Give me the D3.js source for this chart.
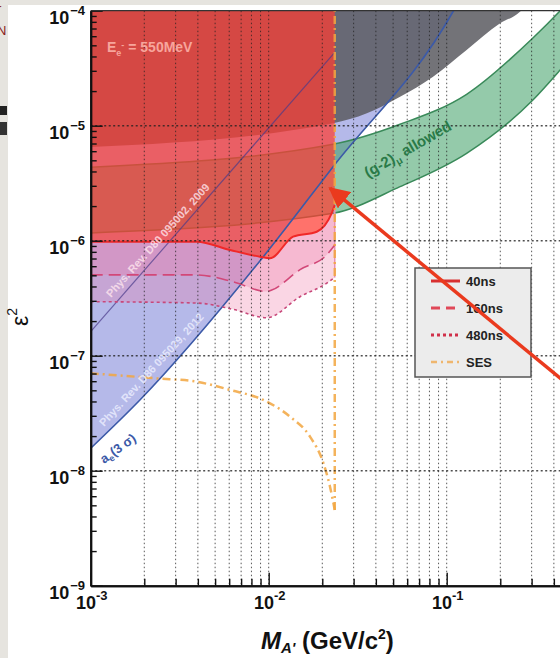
<!DOCTYPE html>
<html>
<head>
<meta charset="utf-8">
<script src="https://cdn.jsdelivr.net/npm/d3@7/dist/d3.min.js"></script>
<style>
    body { margin: 0; background: #fff; }
    svg { display: block; font-family: "Liberation Sans", Arial, sans-serif; }
</style>
</head>
<body>
<svg id="chart"></svg>
<script>
// ---- values (mass in GeV/c^2, epsilon^2) ----
const xTicks = [1e-3, 1e-2, 1e-1, 1];
const yTicks = [1e-9, 1e-8, 1e-7, 1e-6, 1e-5, 1e-4];
const xTickLabels = ["-3", "-2", "-1"];
const yTickLabels = ["\u22129", "\u22128", "\u22127", "\u22126", "\u22125", "\u22124"];

// exclusion curves of this proposal
const mass40 = [1.0e-3, 3.94e-3, 6.07e-3, 8.93e-3, 1.016e-2, 1.371e-2, 1.862e-2, 2.26e-2, 2.35e-2];
const eps40 = [9.8e-7, 9.8e-7, 8.3e-7, 7.26e-7, 7.03e-7, 1.084e-6, 1.197e-6, 1.74e-6, 2.04e-6];
const mass160 = [1.0e-3, 3.94e-3, 6.30e-3, 9.75e-3, 1.04e-2, 1.50e-2, 2.12e-2, 2.35e-2];
const eps160 = [5.04e-7, 5.04e-7, 4.40e-7, 3.61e-7, 3.72e-7, 5.60e-7, 7.53e-7, 9.18e-7];
const mass480 = [1.0e-3, 3.94e-3, 6.30e-3, 9.75e-3, 1.50e-2, 2.12e-2, 2.35e-2];
const eps480 = [2.95e-7, 2.87e-7, 2.53e-7, 2.14e-7, 3.26e-7, 4.27e-7, 4.79e-7];
const massSES = [1.0e-3, 2.35e-3, 3.94e-3, 6.07e-3, 9.33e-3, 1.318e-2, 1.706e-2, 2.03e-2, 2.21e-2, 2.35e-2];
const epsSES = [7.03e-8, 6.35e-8, 5.94e-8, 5.04e-8, 4.12e-8, 2.95e-8, 1.98e-8, 1.16e-8, 7.26e-9, 4.55e-9];
const massLimit = 2.35e-2;

// existing limits
const massD80 = [1.0e-3, 2.35e-2];
const epsD80 = [1.62e-7, 4.34e-5];
const massAe = [1.0e-3, 1.89e-3, 9.33e-3, 2.30e-2, 0.1084, 0.12];
const epsAe = [1.567e-8, 4.12e-8, 7.26e-7, 4.40e-6, 9.79e-5, 1.3e-4];
const massGray = [1.0e-3, 2.30e-2, 3.56e-2, 5.47e-2, 8.38e-2, 0.1294, 0.1995, 0.258, 0.30];
const epsGray = [6.52e-6, 1.05e-5, 1.282e-5, 1.786e-5, 2.67e-5, 4.55e-5, 7.76e-5, 9.79e-5, 1.3e-4];
const massG2 = [1.0e-3, 2.30e-2, 5.47e-2, 0.1294, 0.305, 0.434, 1.0];
const epsG2Low = [1.167e-6, 1.73e-6, 2.95e-6, 5.75e-6, 1.671e-5, 3.05e-5, 1.5e-4];
const epsG2High = [4.36e-6, 6.89e-6, 1.028e-5, 1.875e-5, 5.79e-5, 1.0e-4, 4.5e-4];

// annotation arrow (tip, tail)
const arrowMass = [2.21e-2, 0.726];
const arrowEps = [2.86e-6, 3.3e-8];

const legendLabels = ["40ns", "160ns", "480ns", "SES"];

// ---- layout ----
const width = 560, height = 658;
const margin = { top: 10.7, left: 90.7 };
const plotW = 534, plotH = 575;

const x = d3.scaleLog().domain([1e-3, 1]).range([margin.left, margin.left + plotW]);
const y = d3.scaleLog().domain([1e-9, 1e-4]).range([margin.top + plotH, margin.top]);

const svg = d3.select("#chart")
    .attr("width", width)
    .attr("height", height);

// slide background around the figure
svg.append("rect").attr("width", width).attr("height", height).attr("fill", "#e6e4df");
svg.append("rect").attr("x", 8).attr("y", 5).attr("width", width - 8).attr("height", height - 5).attr("fill", "#fff");
svg.append("text").attr("x", -3).attr("y", 13).attr("fill", "#8a2020").attr("font-size", 13).text("r");
svg.append("text").attr("x", -3).attr("y", 35).attr("fill", "#8a2020").attr("font-size", 13).text("N");
svg.append("rect").attr("x", 0).attr("y", 106).attr("width", 7).attr("height", 9).attr("fill", "#222");
svg.append("rect").attr("x", 0).attr("y", 122).attr("width", 7).attr("height", 13).attr("fill", "#333");

const defs = svg.append("defs");
defs.append("clipPath").attr("id", "plot-clip")
    .append("rect")
    .attr("x", margin.left).attr("y", margin.top)
    .attr("width", plotW).attr("height", plotH);

const plot = svg.append("g").attr("clip-path", "url(#plot-clip)");

const zip = (ms, es) => ms.map((m, i) => [m, es[i]]);
const line = d3.line().x(d => x(d[0])).y(d => y(d[1])).curve(d3.curveMonotoneX);
const areaTop = d3.area()
    .x(d => x(d[0]))
    .y0(y(1e-4) - 200)
    .y1(d => y(d[1]))
    .curve(d3.curveMonotoneX);
const areaBelow = d3.area()
    .x(d => x(d[0]))
    .y0(y(1e-9) + 50)
    .y1(d => y(d[1]))
    .curve(d3.curveMonotoneX);

// pink bands live only below the 40ns curve
defs.append("clipPath").attr("id", "below40")
    .append("path")
    .attr("d", areaBelow(zip(mass40, eps40)));

// a_e exclusion (blue)
plot.append("path")
    .attr("d", areaTop(zip(massAe, epsAe)))
    .attr("fill", "rgb(120,128,215)")
    .attr("fill-opacity", 0.55);

// existing dark gray exclusion
plot.append("path")
    .attr("d", areaTop(zip(massGray, epsGray)))
    .attr("fill", "rgb(90,90,96)")
    .attr("fill-opacity", 0.85);

// (g-2)_mu allowed band
const g2 = massG2.map((m, i) => [m, epsG2Low[i], epsG2High[i]]);
plot.append("path")
    .attr("d", d3.area()
        .x(d => x(d[0]))
        .y0(d => y(d[1]))
        .y1(d => y(d[2]))
        .curve(d3.curveMonotoneX)(g2))
    .attr("fill", "rgb(60,158,100)")
    .attr("fill-opacity", 0.55);
[epsG2Low, epsG2High].forEach(es => {
    plot.append("path")
        .attr("d", line(zip(massG2, es)))
        .attr("fill", "none")
        .attr("stroke", "#3a8a5a")
        .attr("stroke-width", 1.5);
});

// 480ns and 160ns reach (pink)
const pink = plot.append("g").attr("clip-path", "url(#below40)");
[[mass480, eps480], [mass160, eps160]].forEach(([ms, es]) => {
    pink.append("path")
        .attr("d", areaTop(zip(ms, es)))
        .attr("fill", "rgb(240,120,165)")
        .attr("fill-opacity", 0.3);
});
plot.append("line")
    .attr("x1", x(massLimit)).attr("x2", x(massLimit))
    .attr("y1", y(eps40[eps40.length - 1])).attr("y2", y(eps480[eps480.length - 1]))
    .attr("stroke", "#e890b0").attr("stroke-width", 1.5);

// 40ns reach (red)
plot.append("path")
    .attr("d", areaTop(zip(mass40, eps40)))
    .attr("fill", "rgb(255,60,50)")
    .attr("fill-opacity", 0.72);

// reference lines
plot.append("path")
    .attr("d", line(zip(massD80, epsD80)))
    .attr("fill", "none")
    .attr("stroke", "#4a3a8a")
    .attr("stroke-opacity", 0.7)
    .attr("stroke-width", 1.2);
plot.append("path")
    .attr("d", line(zip(massAe, epsAe)))
    .attr("fill", "none")
    .attr("stroke", "#3c5aa8")
    .attr("stroke-width", 1.6);

// curves
plot.append("path")
    .attr("d", line(zip(mass40, eps40)))
    .attr("fill", "none")
    .attr("stroke", "#f02828")
    .attr("stroke-width", 2);
plot.append("path")
    .attr("d", line(zip(mass160, eps160)))
    .attr("fill", "none")
    .attr("stroke", "#d24878")
    .attr("stroke-width", 1.6)
    .attr("stroke-dasharray", "12,6");
plot.append("path")
    .attr("d", line(zip(mass480, eps480)))
    .attr("fill", "none")
    .attr("stroke", "#c8487a")
    .attr("stroke-width", 1.6)
    .attr("stroke-dasharray", "3,3");
plot.append("path")
    .attr("d", line(zip(massSES, epsSES)))
    .attr("fill", "none")
    .attr("stroke", "#f2a640")
    .attr("stroke-opacity", 0.85)
    .attr("stroke-width", 2.5)
    .attr("stroke-dasharray", "8,4,2,4");
plot.append("line")
    .attr("x1", x(massLimit)).attr("x2", x(massLimit))
    .attr("y1", y(epsSES[epsSES.length - 1])).attr("y2", y(1e-4))
    .attr("stroke", "#f2a640")
    .attr("stroke-opacity", 0.85)
    .attr("stroke-width", 2.5)
    .attr("stroke-dasharray", "8,4,2,4");

// dotted grid
plot.selectAll(".vgrid")
    .data(x.ticks().filter(t => t > 1e-3 && t < 1))
    .join("line")
    .attr("class", "vgrid")
    .attr("x1", d => x(d)).attr("x2", d => x(d))
    .attr("y1", margin.top).attr("y2", margin.top + plotH)
    .attr("stroke", "#222")
    .attr("stroke-opacity", 0.75)
    .attr("stroke-width", 1)
    .attr("stroke-dasharray", "1.5,2.5");
plot.selectAll(".hgrid")
    .data(yTicks.slice(1, -1))
    .join("line")
    .attr("class", "hgrid")
    .attr("x1", margin.left).attr("x2", margin.left + plotW)
    .attr("y1", d => y(d)).attr("y2", d => y(d))
    .attr("stroke", "#222")
    .attr("stroke-opacity", 0.8)
    .attr("stroke-width", 1.4)
    .attr("stroke-dasharray", "2,2.5");

// ---- axes ----
const xMinor = x.ticks().filter(t => !xTicks.includes(t));
const yMinor = y.ticks().filter(t => !yTicks.some(v => Math.abs(v - t) / v < 1e-6));

const bottom = svg.append("g").attr("transform", `translate(0,${margin.top + plotH})`);
bottom.call(d3.axisBottom(x).tickValues(xMinor).tickSize(-7).tickSizeOuter(0).tickFormat(""));
bottom.call(g => g.append("g").call(d3.axisBottom(x).tickValues(xTicks).tickSize(-13).tickSizeOuter(0).tickFormat("")));
const left = svg.append("g").attr("transform", `translate(${margin.left},0)`);
left.call(d3.axisLeft(y).tickValues(yMinor).tickSize(-6).tickSizeOuter(0).tickFormat(""));
left.call(g => g.append("g").call(d3.axisLeft(y).tickValues(yTicks).tickSize(-12).tickSizeOuter(0).tickFormat("")));
svg.selectAll(".tick line").attr("stroke", "#111").attr("stroke-width", 1.4);
svg.selectAll(".domain").attr("stroke", "#111").attr("stroke-width", 2);

// top frame
svg.append("line")
    .attr("x1", margin.left).attr("x2", width)
    .attr("y1", margin.top).attr("y2", margin.top)
    .attr("stroke", "#333").attr("stroke-width", 1.2);

// tick labels 10^n
const yLab = svg.append("g").attr("font-weight", "bold").attr("fill", "#111");
yTicks.forEach((t, i) => {
    const txt = yLab.append("text")
        .attr("x", 85)
        .attr("y", y(t) + 13)
        .attr("text-anchor", "end");
    txt.append("tspan").attr("font-size", 18).text("10");
    txt.append("tspan").attr("font-size", 13).attr("dx", 1).attr("dy", -9).text(yTickLabels[i]);
});
const xLab = svg.append("g").attr("font-weight", "bold").attr("fill", "#111");
xTickLabels.forEach((lab, i) => {
    const txt = xLab.append("text")
        .attr("x", x(xTicks[i]) + 1)
        .attr("y", 609)
        .attr("text-anchor", "middle");
    txt.append("tspan").attr("font-size", 18).text("10");
    txt.append("tspan").attr("font-size", 13).attr("dy", -9).text(lab);
});

// axis titles
const yTitle = svg.append("text")
    .attr("transform", "translate(28,317) rotate(-90)")
    .attr("text-anchor", "middle")
    .attr("fill", "#111");
yTitle.append("tspan").attr("font-size", 23).text("\u03b5");
yTitle.append("tspan").attr("font-size", 14).attr("dy", -11).text("2");

const xTitleM = svg.append("text")
    .attr("x", 261)
    .attr("y", 649)
    .attr("font-weight", "bold")
    .attr("font-style", "italic")
    .attr("fill", "#111");
xTitleM.append("tspan").attr("font-size", 24).text("M");
xTitleM.append("tspan").attr("font-size", 15).attr("dy", 4).text("A'");
const xTitle = svg.append("text")
    .attr("x", 302)
    .attr("y", 649)
    .attr("font-weight", "bold")
    .attr("fill", "#111");
xTitle.append("tspan").attr("font-size", 24).text("(GeV/c");
xTitle.append("tspan").attr("font-size", 14).attr("dy", -10).text("2");
xTitle.append("tspan").attr("font-size", 24).attr("dy", 10).text(")");

// ---- annotations ----
const ann = svg.append("g").attr("font-weight", "bold");
const eText = ann.append("text").attr("x", 107).attr("y", 52).attr("fill", "#f7a59c").attr("font-size", 14);
eText.append("tspan").text("E");
eText.append("tspan").attr("font-size", 9).attr("dy", 4).text("e");
eText.append("tspan").attr("font-size", 9).attr("dy", -8).text("-");
eText.append("tspan").attr("dy", 4).text(" = 550MeV");

ann.append("text")
    .attr("transform", "translate(111,298) rotate(-48)")
    .attr("font-size", 11)
    .attr("fill", "#ffe6ee")
    .attr("fill-opacity", 0.8)
    .text("Phys. Rev. D80 095002, 2009");
ann.append("text")
    .attr("transform", "translate(104,427) rotate(-47.5)")
    .attr("font-size", 11)
    .attr("fill", "#eef0ff")
    .attr("fill-opacity", 0.8)
    .text("Phys. Rev. D86 095029, 2012");

const aeText = ann.append("text")
    .attr("transform", "translate(104,464) rotate(-36)")
    .attr("font-size", 13)
    .attr("fill", "#3c5aa8");
aeText.append("tspan").text("a");
aeText.append("tspan").attr("font-size", 9).attr("dy", 3).text("e");
aeText.append("tspan").attr("dy", -3).text("(3 \u03c3)");

const g2Text = ann.append("text")
    .attr("transform", "translate(368,178) rotate(-30)")
    .attr("font-size", 15)
    .attr("fill", "#2a7a48");
g2Text.append("tspan").text("(g-2)");
g2Text.append("tspan").attr("font-size", 10).attr("dy", 4).text("\u03bc");
g2Text.append("tspan").attr("dy", -4).text(" allowed");

// ---- legend ----
const legend = svg.append("g").attr("transform", "translate(415,268)");
legend.append("rect")
    .attr("width", 116).attr("height", 109)
    .attr("fill", "#ececec")
    .attr("stroke", "#555")
    .attr("stroke-width", 1.5);
const legStyles = [
    { stroke: "#d83030", width: 3, dash: null, op: 1 },
    { stroke: "#e04858", width: 3, dash: "9,6", op: 1 },
    { stroke: "#d0304a", width: 3, dash: "3,3", op: 1 },
    { stroke: "#f0b060", width: 2.5, dash: "6,4,2,4", op: 0.9 }
];
legendLabels.forEach((lab, i) => {
    const row = legend.append("g").attr("transform", `translate(0,${13 + i * 27})`);
    row.append("line")
        .attr("x1", 16).attr("x2", 45)
        .attr("stroke", legStyles[i].stroke)
        .attr("stroke-width", legStyles[i].width)
        .attr("stroke-opacity", legStyles[i].op)
        .attr("stroke-dasharray", legStyles[i].dash);
    row.append("text")
        .attr("x", 51).attr("y", 5)
        .attr("font-size", 13)
        .attr("font-weight", "bold")
        .attr("fill", "#222")
        .text(lab);
});

// ---- red arrow pointing at the mass reach ----
defs.append("marker")
    .attr("id", "head")
    .attr("viewBox", "0 0 10 10")
    .attr("refX", 9).attr("refY", 5)
    .attr("markerWidth", 6).attr("markerHeight", 6)
    .attr("orient", "auto")
    .attr("markerUnits", "strokeWidth")
    .append("path")
    .attr("d", "M0,0L10,5L0,10z")
    .attr("fill", "#ea3a1e");
svg.append("line")
    .attr("x1", x(arrowMass[1])).attr("y1", y(arrowEps[1]))
    .attr("x2", x(arrowMass[0])).attr("y2", y(arrowEps[0]))
    .attr("stroke", "#ea3a1e")
    .attr("stroke-width", 3.5)
    .attr("marker-end", "url(#head)");
</script>
</body>
</html>
